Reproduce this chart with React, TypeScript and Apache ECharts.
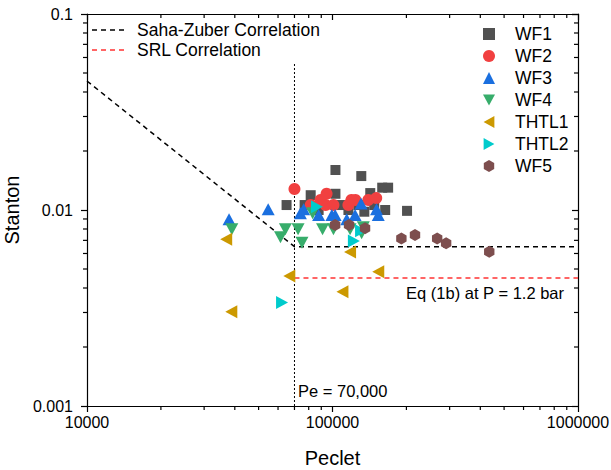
import React, { useEffect, useRef } from 'react';
import * as echarts from 'echarts';

// Peclet, Stanton pairs
const wf1: number[][] = [
  [65000, 0.0106], [77000, 0.0106], [81500, 0.0119], [87800, 0.0100], [102800, 0.0160],
  [102800, 0.0121], [108700, 0.0106], [116100, 0.0100], [127500, 0.0106], [131000, 0.0149],
  [134800, 0.0098], [142500, 0.0122], [147900, 0.0106], [159400, 0.0130], [168500, 0.0130],
  [163900, 0.0100], [201200, 0.0099],
];
const wf2: number[][] = [
  [70000, 0.0128], [81500, 0.0106], [89400, 0.01124], [94600, 0.0121], [93700, 0.0106],
  [100900, 0.0106], [116100, 0.0106], [119400, 0.01124], [124000, 0.01124], [139900, 0.01124],
  [150700, 0.0115],
];
const wf3: number[][] = [
  [37900, 0.00897], [54700, 0.01008], [74000, 0.00962], [76300, 0.01008], [87800, 0.00943],
  [99400, 0.00943], [102500, 0.00943], [114300, 0.00897], [123600, 0.00943], [130700, 0.0108],
  [151100, 0.01008], [153600, 0.00943],
];
const wf4: number[][] = [
  [38900, 0.00797], [61400, 0.00726], [64300, 0.00797], [72400, 0.00797], [75100, 0.00681],
  [83000, 0.00962], [91100, 0.00797], [100900, 0.00797], [117900, 0.00797], [131400, 0.0076],
  [133500, 0.00816],
];
const thtl1: number[][] = [
  [36900, 0.00709], [38700, 0.00303], [66700, 0.00461], [109800, 0.00383], [117900, 0.00611],
  [153600, 0.00484],
];
const thtl2: number[][] = [
  [62300, 0.00337], [86400, 0.0104], [122200, 0.00695], [130700, 0.00784],
];
const wf5: number[][] = [
  [102500, 0.00838], [116800, 0.00838], [135700, 0.00806], [190800, 0.00716], [216800, 0.00746],
  [266900, 0.00716], [290300, 0.00676], [435000, 0.00613],
];

// correlations
const sahaZuber: number[][] = [[10000, 0.0455], [70000, 0.0065], [1000000, 0.0065]];
const srl: number[][] = [[70000, 0.0045], [1000000, 0.0045]];
const peLine: number[][] = [[70000, 0.001], [70000, 0.056]];

// axis range and minor ticks
const xMin = 10000, xMax = 1000000;
const yMin = 0.001, yMax = 0.1;
const xMinorTicks = [20000, 30000, 40000, 50000, 60000, 70000, 80000, 90000,
  200000, 300000, 400000, 500000, 600000, 700000, 800000, 900000];
const yMinorTicks = [0.002, 0.003, 0.004, 0.005, 0.006, 0.007, 0.008, 0.009,
  0.02, 0.03, 0.04, 0.05, 0.06, 0.07, 0.08, 0.09];

const FONT = '"Liberation Sans", Arial, sans-serif';
const HEX = 'path://M0,-1 L0.866,-0.5 L0.866,0.5 L0,1 L-0.866,0.5 L-0.866,-0.5 Z';
const TRI_DOWN = 'path://M0,0 L2,0 L1,1.8 Z';
const TRI_LEFT = 'path://M1.8,0 L1.8,2 L0,1 Z';
const TRI_RIGHT = 'path://M0,0 L1.8,1 L0,2 Z';

export default function App() {
  const ref = useRef<HTMLDivElement>(null);
  useEffect(() => {
    const chart = echarts.init(ref.current!, null, { renderer: 'svg' });
    const fmt = (v: number) => String(+Number(v).toPrecision(3));
    const scatter = (name: string, data: number[][], color: string, symbol: string, size: any, rotate = 0) => ({
      name, type: 'scatter', data, symbol, symbolSize: size, symbolRotate: rotate, symbolKeepAspect: true,
      itemStyle: { color, opacity: 1 }, z: 3,
    });
    const axisLine = { show: true, onZero: false, lineStyle: { color: '#000', width: 1.2 } };
    const tickStyle = { color: '#000', width: 1.2 };
    chart.setOption({
      animation: false,
      backgroundColor: '#fff',
      textStyle: { fontFamily: FONT },
      grid: { left: 87, right: 33, top: 14, bottom: 64, containLabel: false, outerBoundsMode: 'none' },
      xAxis: [
        {
          type: 'log', logBase: 10, min: xMin, max: xMax, position: 'bottom',
          name: 'Peclet', nameLocation: 'middle', nameGap: 42,
          nameTextStyle: { fontSize: 20, color: '#000', fontFamily: FONT },
          axisLine, axisTick: { show: true, inside: false, length: 6, lineStyle: tickStyle },
          axisLabel: { fontSize: 16, color: '#000', margin: 8, fontFamily: FONT, formatter: fmt },
          splitLine: { show: false },
        },
        {
          type: 'log', logBase: 10, min: xMin, max: xMax, position: 'top',
          axisLine, axisTick: { show: true, inside: true, length: 6, lineStyle: tickStyle },
          axisLabel: { show: false }, splitLine: { show: false },
        },
      ],
      yAxis: [
        {
          type: 'log', logBase: 10, min: yMin, max: yMax, position: 'left',
          name: 'Stanton', nameLocation: 'middle', nameGap: 53,
          nameTextStyle: { fontSize: 20, color: '#000', fontFamily: FONT },
          axisLine, axisTick: { show: true, inside: false, length: 6, lineStyle: tickStyle },
          axisLabel: { fontSize: 16, color: '#000', margin: 14, fontFamily: FONT, formatter: fmt },
          splitLine: { show: false },
        },
        {
          type: 'log', logBase: 10, min: yMin, max: yMax, position: 'right',
          axisLine, axisTick: { show: true, inside: true, length: 6, lineStyle: tickStyle },
          axisLabel: { show: false }, splitLine: { show: false },
        },
      ],
      legend: [
        {
          data: [
            { name: 'WF1', icon: 'rect' },
            { name: 'WF2', icon: 'circle' },
            { name: 'WF3', icon: 'triangle' },
            { name: 'WF4', icon: TRI_DOWN },
            { name: 'THTL1', icon: TRI_LEFT },
            { name: 'THTL2', icon: TRI_RIGHT },
            { name: 'WF5', icon: HEX },
          ],
          orient: 'vertical', left: 478, top: 20, itemWidth: 12, itemHeight: 12, itemGap: 4,
          textStyle: { fontSize: 17.5, lineHeight: 18, color: '#000', fontFamily: FONT, padding: [0, 0, 0, 15] },
          selectedMode: false,
        },
      ],
      series: [
        {
          name: 'Saha-Zuber Correlation', type: 'line', data: sahaZuber, symbol: 'none',
          lineStyle: { color: '#000', width: 1.5, type: [5, 4] }, z: 2,
        },
        {
          name: 'SRL Correlation', type: 'line', data: srl, symbol: 'none',
          lineStyle: { color: '#ff3333', width: 1.5, type: [5, 4] }, z: 2,
        },
        {
          name: 'Pe line', type: 'line', data: peLine, symbol: 'none',
          lineStyle: { color: '#000', width: 1, type: [2, 2] }, z: 2,
        },
        scatter('WF1', wf1, '#515151', 'rect', 10),
        scatter('WF2', wf2, '#F14040', 'circle', 12),
        scatter('WF3', wf3, '#1A6FDF', 'triangle', [13, 12]),
        scatter('WF4', wf4, '#37AD6B', 'triangle', [13, 12], 180),
        scatter('THTL1', thtl1, '#CC9900', 'triangle', [13, 12], 90),
        scatter('THTL2', thtl2, '#00CBCC', 'triangle', [13, 12], -90),
        scatter('WF5', wf5, '#7D4E4E', HEX, 12),
        {
          name: 'xMinor', type: 'custom', silent: true, clip: false, z: 4,
          data: xMinorTicks.map((v) => [v, yMin]),
          renderItem: (params: any, api: any) => {
            const b = api.coord([api.value(0), yMin]);
            const t = api.coord([api.value(0), yMax]);
            const ls = { stroke: '#000', lineWidth: 1.2 };
            return {
              type: 'group', children: [
                { type: 'line', shape: { x1: b[0], y1: b[1], x2: b[0], y2: b[1] + 4 }, style: ls },
                { type: 'line', shape: { x1: t[0], y1: t[1], x2: t[0], y2: t[1] + 4 }, style: ls },
              ],
            };
          },
        },
        {
          name: 'yMinor', type: 'custom', silent: true, clip: false, z: 4,
          data: yMinorTicks.map((v) => [xMin, v]),
          renderItem: (params: any, api: any) => {
            const l = api.coord([xMin, api.value(1)]);
            const r = api.coord([xMax, api.value(1)]);
            const ls = { stroke: '#000', lineWidth: 1.2 };
            return {
              type: 'group', children: [
                { type: 'line', shape: { x1: l[0], y1: l[1], x2: l[0] - 4, y2: l[1] }, style: ls },
                { type: 'line', shape: { x1: r[0], y1: r[1], x2: r[0] - 4, y2: r[1] }, style: ls },
              ],
            };
          },
        },
      ],
      graphic: [
        // line-legend (Saha-Zuber / SRL)
        { type: 'line', shape: { x1: 92, y1: 30, x2: 125, y2: 30 }, style: { stroke: '#000', lineWidth: 1.5, lineDash: [5, 4] } },
        { type: 'text', x: 137, y: 30, style: { text: 'Saha-Zuber Correlation', fontSize: 17.5, fill: '#000', fontFamily: FONT, verticalAlign: 'middle', align: 'left' } },
        { type: 'line', shape: { x1: 92, y1: 50, x2: 125, y2: 50 }, style: { stroke: '#ff3333', lineWidth: 1.5, lineDash: [5, 4] } },
        { type: 'text', x: 137, y: 50, style: { text: 'SRL Correlation', fontSize: 17.5, fill: '#000', fontFamily: FONT, verticalAlign: 'middle', align: 'left' } },
        // annotations
        { type: 'text', x: 298, y: 391, style: { text: 'Pe = 70,000', fontSize: 16.5, fill: '#000', fontFamily: FONT, verticalAlign: 'middle', align: 'left' } },
        { type: 'text', x: 564, y: 293, style: { text: 'Eq (1b) at P = 1.2 bar', fontSize: 16.5, fill: '#000', fontFamily: FONT, verticalAlign: 'middle', align: 'right' } },
      ],
    });
    return () => chart.dispose();
  }, []);
  return (
    <div
      ref={ref}
      style={{ position: 'fixed', left: 0, top: 0, width: 611, height: 470, background: '#fff' }}
    />
  );
}
